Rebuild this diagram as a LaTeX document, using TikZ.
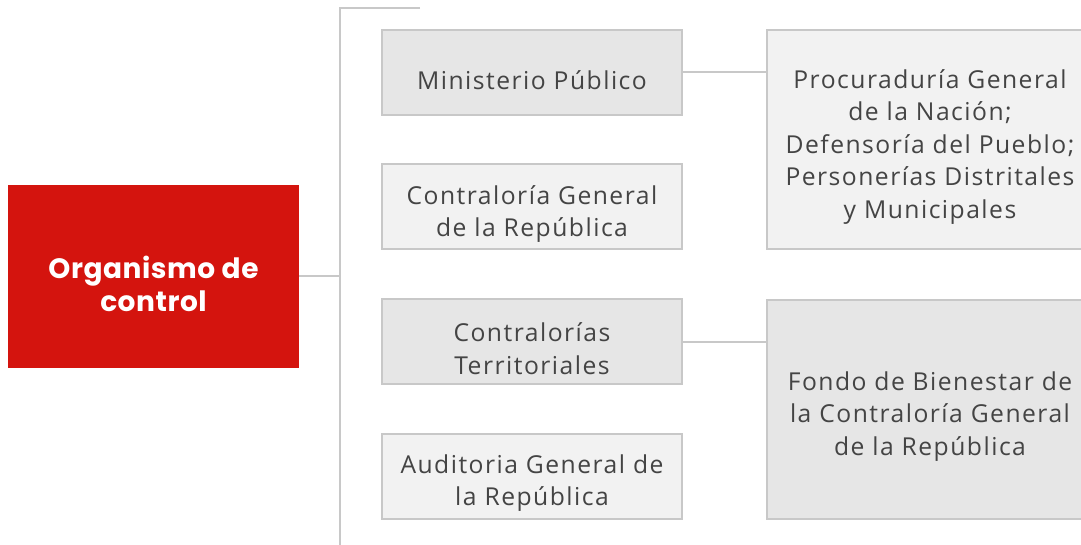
\documentclass[tikz,border=0pt]{standalone}
\usepackage{fontspec}
\setmainfont{Open Sans}[LetterSpace=6]
\newfontfamily\headfont{Poppins}[LetterSpace=2]
\usetikzlibrary{positioning}
\definecolor{redbox}{HTML}{D4140E}
\definecolor{edgegray}{HTML}{C8C8C8}
\definecolor{filldark}{HTML}{E6E6E6}
\definecolor{filllight}{HTML}{F2F2F2}
\definecolor{txtgray}{HTML}{444444}
\begin{document}
\begin{tikzpicture}[x=0.75pt, y=-0.75pt,
  entity/.style={draw=edgegray, line width=1.5pt, inner sep=0pt},
  boxtext/.style={align=center, inner sep=0pt, yshift=-5.5pt,
    text=txtgray, font=\fontsize{18.5}{24.3}\selectfont},
  midbox/.style={entity, minimum width=225pt, minimum height=63.75pt},
  sidebox/.style={entity, minimum width=244.5pt, minimum height=164.25pt},
  link/.style={draw=edgegray, line width=1.5pt}]
  \clip (0,0) rectangle (1081,545);
  \useasboundingbox (0,0) rectangle (1081,545);
  % main box
  \node[fill=redbox, minimum width=218.25pt, minimum height=137.25pt, inner sep=0pt,
    label={[boxtext, text=white, font=\headfont\bfseries\fontsize{21}{24.75}\selectfont]center:{Organismo de\\control}}]
    (org) at (153.5,276.5) {};
  % trunk line
  \coordinate (trunktop) at (340,8);
  \coordinate (trunkbot) at (340,548);
  \coordinate (trunkend) at (420,8);
  \draw[link] (trunkend) -- (trunktop) -- (trunkbot);
  \draw[link] (org.east) -- (org.east -| trunktop);
  % middle column
  \node[midbox, fill=filldark, label={[boxtext]center:{Ministerio Público}}] (mp) at (532,72.5) {};
  \node[midbox, fill=filllight, label={[boxtext]center:{Contraloría General\\de la República}}] (cgr) at (532,206.5) {};
  \node[midbox, fill=filldark, label={[boxtext]center:{Contralorías\\Territoriales}}] (ct) at (532,341.5) {};
  \node[midbox, fill=filllight, label={[boxtext]center:{Auditoria General de\\la República}}] (agr) at (532,476) {};
  % right column
  \node[sidebox, fill=filllight,
    label={[boxtext]center:{Procuraduría General\\de la Nación;\\Defensoría del Pueblo;\\Personerías Distritales\\y Municipales}}]
    (pgn) at (930,139.5) {};
  \node[sidebox, fill=filldark,
    label={[boxtext]center:{Fondo de Bienestar de\\la Contraloría General\\de la República}}]
    (fb) at (930,409) {};
  % links to the right column
  \draw[link] (mp.east) -- (mp.east -| pgn.west);
  \draw[link] (ct.east) -- (ct.east -| fb.west);
\end{tikzpicture}
\end{document}
